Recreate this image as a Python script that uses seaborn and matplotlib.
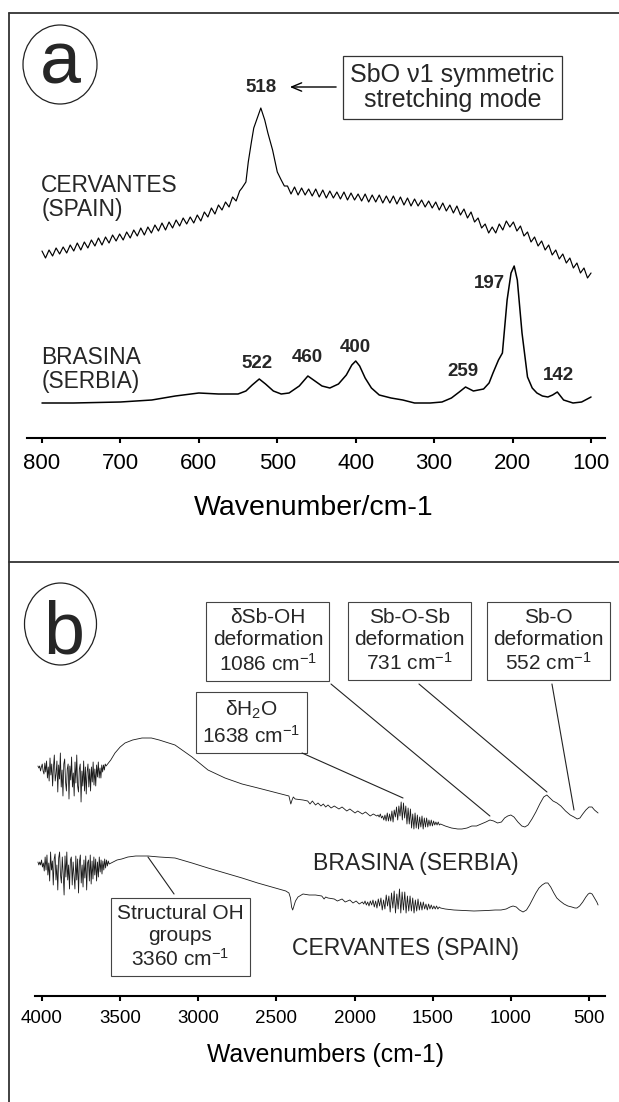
import numpy as np
import matplotlib
matplotlib.use("Agg")
import matplotlib.pyplot as plt
from matplotlib.patches import Ellipse
from matplotlib.lines import Line2D
import seaborn as sns

# ---------------- panel a : Raman ----------------
raman_ticks = [800, 700, 600, 500, 400, 300, 200, 100]

brasina_raman_wn = [800, 760, 700, 660, 630, 600, 575, 550, 540, 532,
                    523, 515, 505, 495, 485, 472, 461, 452, 443, 433,
                    422, 412, 405, 400, 395, 388, 380, 370, 355, 340,
                    325, 305, 290, 278, 268, 260, 250, 237, 230, 225,
                    218, 213, 207, 202, 198, 194, 188, 181, 175, 169,
                    162, 155, 149, 143, 139, 135, 123, 112, 100]
brasina_raman_int = [35, 35, 36, 38, 42, 45, 44, 44, 47, 53,
                     59, 54, 47, 44, 45, 52, 62, 57, 52, 50,
                     54, 63, 73, 77, 72, 60, 50, 43, 40, 38,
                     35, 35, 36, 40, 46, 51, 47, 49, 55, 65,
                     78, 85, 138, 165, 172, 158, 105, 61, 50, 45,
                     42, 41, 43, 46, 42, 38, 35, 36, 41]

# Cervantes: jagged trace 800 -> 548
cerv_pre_int = [187, 180, 188, 182, 190, 184, 191, 185, 193, 187,
                195, 188, 196, 190, 198, 192, 200, 193, 201, 195,
                203, 197, 204, 198, 206, 200, 208, 202, 210, 203,
                211, 205, 213, 207, 215, 208, 216, 210, 218, 212,
                220, 214, 221, 215, 223, 217, 226, 221, 230, 224,
                233, 228, 236, 231, 241, 237, 247]
cerv_peak_wn = [545, 540, 537, 533, 530, 521, 516, 512, 506, 500, 495, 491]
cerv_peak_int = [250, 256, 276, 296, 310, 330, 318, 305, 288, 266, 258, 252]
# jagged trace 487 -> 100
cerv_post_int = [252, 244, 251, 243, 250, 243, 249, 242, 249, 241,
                 248, 240, 247, 240, 246, 239, 246, 238, 245, 238,
                 244, 237, 244, 236, 243, 236, 243, 235, 242, 235,
                 242, 234, 241, 233, 240, 232, 239, 232, 238, 231,
                 237, 230, 236, 228, 235, 227, 233, 225, 232, 223,
                 229, 220, 226, 216, 220, 210, 214, 205, 211, 205,
                 214, 208, 217, 211, 216, 207, 212, 202, 206, 196,
                 201, 192, 197, 188, 193, 183, 188, 179, 184, 175,
                 180, 170, 175, 165, 170, 160, 165]

raman_peak_labels = ["518", "522", "460", "400", "259", "197", "142"]
raman_peak_label_wn = [521, 526, 462, 401, 263, 230, 141]
raman_peak_label_int = [351, 75, 81, 91, 67, 155, 63]

# ---------------- panel b : IR ----------------
ir_ticks = [4000, 3500, 3000, 2500, 2000, 1500, 1000, 500]

# BRASINA (upper trace)
top_noise1_int = [230, 228, 230, 225, 229, 232, 225, 222, 233, 224,
                  235, 218, 229, 215, 238, 221, 232, 210, 229, 241,
                  215, 222, 235, 204, 231, 217, 243, 209, 226, 200,
                  232, 237, 214, 205, 227, 232, 197, 230, 216, 239,
                  209, 223, 200, 234, 213, 241, 210, 204, 227, 232,
                  194, 225, 210, 235, 205, 229, 202, 224, 232, 209,
                  227, 205, 229, 214, 234, 211, 227, 210, 231, 219,
                  234, 218, 228, 218, 231, 224, 231, 226, 232, 230]
top_smooth1_wn = [3560, 3533, 3500, 3469, 3420, 3360, 3300, 3250, 3149, 3040,
                  2938, 2829, 2720, 2618, 2520, 2445, 2420, 2408, 2400, 2392,
                  2380, 2330, 2300, 2285, 2270, 2250, 2234, 2215, 2200, 2185,
                  2170, 2150, 2130, 2100, 2080, 2050, 2030, 1997, 1980, 1950,
                  1930, 1900, 1880, 1858]
top_smooth1_int = [236, 243, 249, 253, 256, 258, 258, 256, 251, 239,
                   226, 218, 212, 208, 204, 201, 200, 192, 196, 199,
                   197, 196, 195, 192, 195, 191, 193, 190, 192, 189,
                   191, 188, 190, 187, 189, 185, 187, 183, 185, 182,
                   184, 180, 182, 180]
top_noise2_int = [181, 179, 182, 178, 180, 176, 181, 175, 183, 175,
                  182, 175, 185, 174, 186, 179, 189, 176, 190, 180,
                  194, 176, 193, 178, 190, 172, 188, 172, 187, 168,
                  182, 167, 183, 168, 181, 167, 179, 169, 180, 167,
                  178, 169, 178, 169, 176, 170, 176, 170, 175, 171,
                  174, 171, 174, 171, 172]
top_smooth2_wn = [1420, 1380, 1340, 1313, 1280, 1250, 1220, 1190, 1160, 1134,
                  1110, 1085, 1060, 1040, 1020, 1000, 980, 955, 930, 910,
                  890, 865, 840, 815, 790, 770, 750, 730, 705, 680,
                  650, 620, 596, 575, 558, 540, 520, 500, 481, 465,
                  450, 442]
top_smooth2_int = [170, 168, 167, 167, 168, 170, 170, 172, 174, 176,
                   175, 173, 174, 178, 180, 181, 179, 174, 170, 169,
                   171, 177, 184, 192, 199, 201, 198, 195, 193, 190,
                   185, 181, 179, 177, 178, 182, 186, 189, 189, 186,
                   184, 183]

# CERVANTES (lower trace)
bot_noise1_int = [134, 131, 134, 131, 136, 129, 133, 125, 139, 126,
                  141, 121, 133, 115, 144, 126, 135, 111, 137, 142,
                  116, 131, 106, 138, 144, 121, 113, 139, 122, 101,
                  140, 119, 144, 116, 131, 107, 136, 139, 111, 134,
                  120, 107, 140, 116, 137, 103, 134, 141, 113, 131,
                  109, 136, 118, 140, 106, 133, 136, 115, 141, 112,
                  135, 117, 139, 121, 137, 115, 134, 119, 139, 124,
                  136, 122, 135, 126, 137, 128, 136, 130, 135, 132]
bot_smooth1_wn = [3545, 3520, 3490, 3450, 3400, 3322, 3250, 3149, 3040, 2938,
                  2830, 2720, 2620, 2509, 2440, 2420, 2410, 2403, 2396, 2388,
                  2378, 2362, 2330, 2290, 2250, 2210, 2195, 2185, 2170, 2130,
                  2110, 2080, 2060, 2030, 2010, 1990, 1970]
bot_smooth1_int = [134, 136, 137, 139, 140, 140, 139, 138, 133, 128,
                   123, 118, 113, 108, 105, 103, 98, 89, 86, 90,
                   95, 99, 102, 101, 101, 100, 97, 99, 98, 97,
                   95, 97, 94, 96, 93, 95, 92]
bot_noise2_int = [94, 92, 95, 91, 94, 90, 95, 91, 96, 89,
                  95, 88, 97, 90, 98, 86, 96, 87, 101, 90,
                  100, 84, 103, 88, 105, 83, 102, 87, 107, 83,
                  104, 86, 104, 83, 100, 85, 100, 85, 98, 83,
                  96, 85, 97, 86, 94, 86, 94, 87, 92, 86,
                  92, 87, 91, 87, 90, 87, 90, 87, 89, 88]
bot_smooth2_wn = [1420, 1364, 1300, 1236, 1150, 1100, 1063, 1030, 1005, 986,
                  965, 945, 922, 900, 880, 860, 840, 820, 800, 780,
                  763, 745, 725, 706, 685, 660, 635, 610, 590, 577,
                  560, 540, 520, 505, 494, 480, 465, 450, 442]
bot_smooth2_int = [87, 86, 85.5, 85, 85.5, 86, 86, 87, 89, 90,
                   89, 86, 84, 86, 91, 97, 103, 108, 111, 113,
                   113, 109, 103, 98, 95, 92, 90, 89, 88, 88,
                   90, 94, 99, 102, 103, 102, 98, 94, 91]

# ---------------- assemble series ----------------
cerv_raman_wn = np.concatenate([np.linspace(800, 548, len(cerv_pre_int)),
                                cerv_peak_wn,
                                np.linspace(487, 100, len(cerv_post_int))])
cerv_raman_int = np.concatenate([cerv_pre_int, cerv_peak_int, cerv_post_int])

top_ir_wn = np.concatenate([np.linspace(4026, 3590, len(top_noise1_int)), top_smooth1_wn,
                            np.linspace(1850, 1450, len(top_noise2_int)), top_smooth2_wn])
top_ir_int = np.concatenate([top_noise1_int, top_smooth1_int, top_noise2_int, top_smooth2_int])
bot_ir_wn = np.concatenate([np.linspace(4026, 3570, len(bot_noise1_int)), bot_smooth1_wn,
                            np.linspace(1950, 1450, len(bot_noise2_int)), bot_smooth2_wn])
bot_ir_int = np.concatenate([bot_noise1_int, bot_smooth1_int, bot_noise2_int, bot_smooth2_int])

# ---------------- style ----------------
sns.set_theme(style="white")
plt.rcParams['font.family'] = ['Liberation Sans', 'DejaVu Sans']
plt.rcParams['mathtext.fontset'] = 'custom'
plt.rcParams['mathtext.rm'] = 'Liberation Sans'
plt.rcParams['mathtext.it'] = 'Liberation Sans:italic'
plt.rcParams['mathtext.bf'] = 'Liberation Sans:bold'

W, H = 619, 1102
fig = plt.figure(figsize=(W / 100, H / 100), dpi=100, facecolor='white')


def fx(x):
    return x / W


def fy(y):
    return 1 - y / H


axa = fig.add_axes([fx(27), fy(438), (605 - 27) / W, (438 - 13) / H])
axb = fig.add_axes([fx(35), fy(996), (605 - 35) / W, (996 - 562) / H])

sns.lineplot(x=brasina_raman_wn, y=brasina_raman_int, ax=axa, color='black',
             lw=1.1, sort=False, estimator=None)
sns.lineplot(x=cerv_raman_wn, y=cerv_raman_int, ax=axa, color='black',
             lw=0.85, sort=False, estimator=None)
sns.lineplot(x=top_ir_wn, y=top_ir_int, ax=axb, color='#1a1a1a',
             lw=0.6, sort=False, estimator=None)
sns.lineplot(x=bot_ir_wn, y=bot_ir_int, ax=axb, color='#1a1a1a',
             lw=0.6, sort=False, estimator=None)

for ax, lim, ticks, tsize, pad in [(axa, (819.1, 82.2), raman_ticks, 16, 7.5),
                                   (axb, (4044.8, 397.6), ir_ticks, 13.5, 6.3)]:
    ax.set_facecolor('none')
    ax.set_xlim(*lim)
    ax.set_ylim(0, 425 if ax is axa else 434)
    ax.set_xticks(ticks)
    ax.set_yticks([])
    for s in ['left', 'top', 'right']:
        ax.spines[s].set_visible(False)
    ax.spines['bottom'].set_linewidth(1.5)
    ax.spines['bottom'].set_color('black')
    ax.tick_params(axis='x', bottom=True, direction='out', length=3.6, width=1.5,
                   color='black', labelsize=tsize, pad=pad, labelcolor='black')
    ax.set_ylabel('')

axa.set_xlabel('Wavenumber/cm-1', fontsize=20.5, color='black')
axa.xaxis.set_label_coords(0.4965, -0.1647)
axa.xaxis.label.set_va('center')
axb.set_xlabel('Wavenumbers (cm-1)', fontsize=17.8, color='black')
axb.xaxis.set_label_coords(0.5088, -0.136)
axb.xaxis.label.set_va('center')

# ---------------- panel a texts ----------------
axa.text(801, 240.5, 'CERVANTES\n(SPAIN)', fontsize=16.4, ha='left', va='center', linespacing=1.1)
axa.text(801, 68.5, 'BRASINA\n(SERBIA)', fontsize=16.4, ha='left', va='center', linespacing=1.1)
for lab, xw, yi in zip(raman_peak_labels, raman_peak_label_wn, raman_peak_label_int):
    axa.text(xw, yi, lab, fontsize=13.5, fontweight='bold', ha='center', va='center')
axa.annotate('', xy=(484, 351), xytext=(425, 351),
             arrowprops=dict(arrowstyle='->,head_length=0.6,head_width=0.25', lw=1.0,
                             color='black', shrinkA=0, shrinkB=0))
box_style = dict(boxstyle='square,pad=0.3', fc='white', ec='#333333', lw=0.9)
axa.text(276.6, 350.5, 'SbO \u03bd1 symmetric\nstretching mode', fontsize=18,
         ha='center', va='center', bbox=box_style, linespacing=1.05)

# ---------------- panel b texts ----------------
axb.text(1607, 133, 'BRASINA (SERBIA)', fontsize=16.6, ha='center', va='center')
axb.text(1671, 48, 'CERVANTES (SPAIN)', fontsize=16.6, ha='center', va='center')
box_b = dict(boxstyle='square,pad=0.3', fc='white', ec='#444444', lw=0.8)
axb.text(2554, 354.5, '\u03b4Sb-OH\ndeformation\n1086 cm$^{-1}$', fontsize=15,
         ha='center', va='center', bbox=box_b)
axb.text(1649, 355, 'Sb-O-Sb\ndeformation\n731 cm$^{-1}$', fontsize=15,
         ha='center', va='center', bbox=box_b)
axb.text(759, 355, 'Sb-O\ndeformation\n552 cm$^{-1}$', fontsize=15,
         ha='center', va='center', bbox=box_b)
axb.text(2660, 273, '\u03b4H$_2$O\n1638 cm$^{-1}$', fontsize=15,
         ha='center', va='center', bbox=box_b)
axb.text(3114, 59, 'Structural OH\ngroups\n3360 cm$^{-1}$', fontsize=15,
         ha='center', va='center', bbox=box_b)

leaders = [((2336, 243), (1690, 198)),
           ((2151, 312), (1134, 180)),
           ((1588, 312), (769, 204)),
           ((737, 312), (596, 186)),
           ((3155, 102), (3322, 139))]
for start, end in leaders:
    axb.annotate('', xy=end, xytext=start,
                 arrowprops=dict(arrowstyle='-', lw=0.8, color='#222222',
                                 shrinkA=0, shrinkB=0))

# ---------------- frame, circles, panel letters ----------------
for xs, ys in [([9, 9], [13, 1102]), ([9, 619], [13, 13]), ([9, 619], [562, 562])]:
    fig.add_artist(Line2D([fx(v) for v in xs], [fy(v) for v in ys],
                          transform=fig.transFigure, color='#333333', lw=1.3))
fig.add_artist(Ellipse((fx(60), fy(64.5)), 74 / W, 79 / H, transform=fig.transFigure,
                       fill=False, ec='#222222', lw=0.9))
fig.add_artist(Ellipse((fx(60.5), fy(624)), 72 / W, 82 / H, transform=fig.transFigure,
                       fill=False, ec='#222222', lw=0.9))
fig.text(fx(60), fy(83), 'a', fontsize=53, ha='center', va='baseline')
fig.text(fx(64), fy(653), 'b', fontsize=53, ha='center', va='baseline')

fig.savefig('out.png', dpi=100, facecolor='white')
